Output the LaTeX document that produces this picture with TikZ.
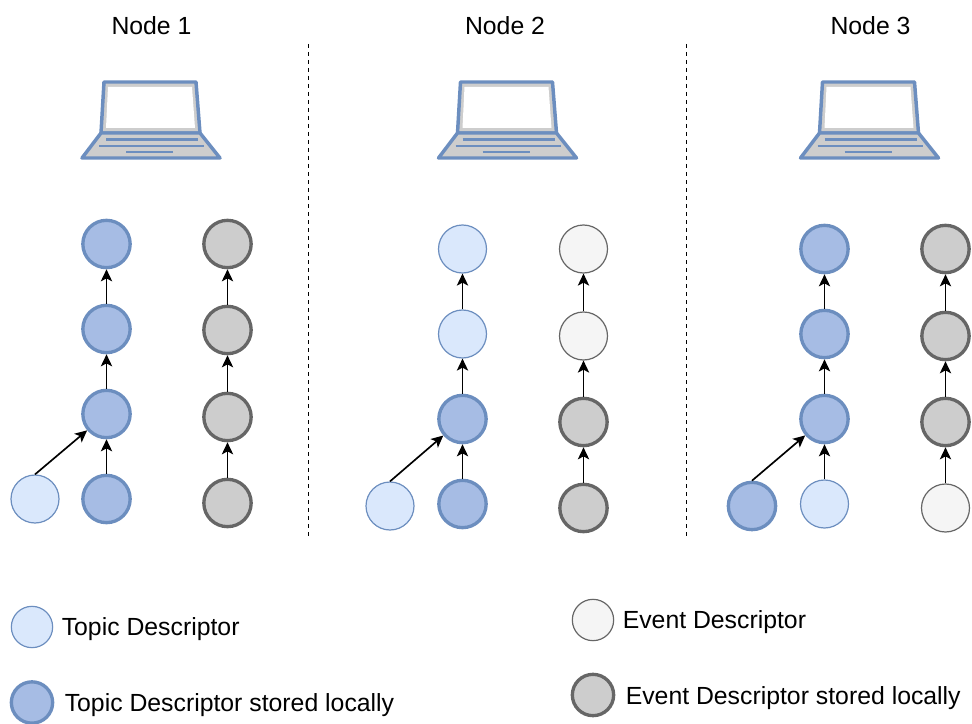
\documentclass[tikz,border=0pt]{standalone}
\usepackage{fontspec}
\setmainfont{Liberation Sans}
\usepackage{xcolor}
\definecolor{topicfill}{HTML}{DAE8FC}
\definecolor{localfill}{HTML}{A6BCE4}
\definecolor{topicline}{HTML}{6C8EBF}
\definecolor{eventfill}{HTML}{F5F5F5}
\definecolor{storefill}{HTML}{CDCDCD}
\definecolor{eventline}{HTML}{666666}
\tikzset{
	desc/.style={circle, draw, inner sep=0pt},
	topic/.style={desc, fill=topicfill, draw=topicline, line width=0.9pt, minimum size=36pt},
	topiclocal/.style={desc, fill=localfill, draw=topicline, line width=2.5pt, minimum size=35.5pt},
	event/.style={desc, fill=eventfill, draw=eventline, line width=0.9pt, minimum size=36pt},
	eventlocal/.style={desc, fill=storefill, draw=eventline, line width=2.5pt, minimum size=35.5pt},
	legendsize/.style={minimum size=31pt},
	title/.style={font=\fontsize{18.6}{22}\selectfont},
	legend/.style={font=\fontsize{18.6}{22}\selectfont, anchor=west, inner sep=0pt},
	link/.style={-{Stealth[length=9pt,width=8.5pt,inset=2.2pt]}, line width=1.25pt, black},
}
\usetikzlibrary{arrows.meta}
\begin{document}
\begin{tikzpicture}[x=0.75pt, y=-0.75pt]
	\useasboundingbox (0,0) rectangle (972,724);
	% titles
	\node[title] (title1) at (151.5,25.5) {Node 1};
	\node[title] (title2) at (505,25.5) {Node 2};
	\node[title] (title3) at (870.5,25.5) {Node 3};
	% separators
	\draw[black, dashed, line width=1.1pt] (308.3,44) -- (308.3,537);
	\draw[black, dashed, line width=1.1pt] (686.3,44) -- (686.3,537);
	% laptops
	\foreach \cx in {151,507.5,869.5} {
		\begin{scope}[xshift=\cx*0.75pt]
			\draw[topicline, line width=2.6pt, fill=storefill, line join=round] (-47,82) -- (45,82) -- (49,133) -- (-50,133) -- cycle;
			\fill[white] (-43,87) -- (41,87) -- (44,128) -- (-45,128) -- cycle;
			\draw[topicline, line width=2.6pt, fill=storefill, line join=round] (-50,133) -- (49,133) -- (69,158) -- (-69,158) -- cycle;
			\draw[topicline, line width=2.1pt] (-45,139.5) -- (47,139.5);
			\draw[topicline, line width=2.1pt] (-52,146) -- (53,146);
			\draw[topicline, line width=2.1pt] (-25,152) -- (22,152);
		\end{scope}
	}
	% node 1
	\node[topiclocal] (a1) at (106.5,244) {};
	\node[topiclocal] (a2) at (106.5,329) {};
	\node[topiclocal] (a3) at (106.5,414) {};
	\node[topiclocal] (a4) at (106.5,499) {};
	\node[topic] (a5) at (35,499) {};
	\node[eventlocal] (b1) at (227.5,244) {};
	\node[eventlocal] (b2) at (227.5,330) {};
	\node[eventlocal] (b3) at (227.5,417) {};
	\node[eventlocal] (b4) at (227.5,503) {};
	% node 2
	\node[topic] (c1) at (462.5,249) {};
	\node[topic] (c2) at (462.5,334) {};
	\node[topiclocal] (c3) at (462.5,419) {};
	\node[topiclocal] (c4) at (462.5,504) {};
	\node[topic] (c5) at (390,506) {};
	\node[event] (d1) at (583.5,249) {};
	\node[event] (d2) at (583.5,336) {};
	\node[eventlocal] (d3) at (583.5,422) {};
	\node[eventlocal] (d4) at (583.5,508) {};
	% node 3
	\node[topiclocal] (e1) at (824.5,249) {};
	\node[topiclocal] (e2) at (824.5,334) {};
	\node[topiclocal] (e3) at (824.5,419) {};
	\node[topic] (e4) at (824.5,504) {};
	\node[topiclocal] (e5) at (752,506) {};
	\node[eventlocal] (f1) at (945.5,249) {};
	\node[eventlocal] (f2) at (945.5,336) {};
	\node[eventlocal] (f3) at (945.5,422) {};
	\node[event] (f4) at (945.5,508) {};
	% chains
	\foreach \col in {a,b,c,d,e,f} {
		\draw[link] (\col2) -- (\col1);
		\draw[link] (\col3) -- (\col2);
		\draw[link] (\col4) -- (\col3);
	}
	\draw[link] (a5.north) -- (a3);
	\draw[link] (c5.north) -- (c3);
	\draw[link] (e5.north) -- (e3);
	% legend
	\node[topic, legendsize] (l1) at (32,627) {};
	\node[topiclocal, legendsize] (l2) at (32,702.5) {};
	\node[event, legendsize] (l3) at (593,620) {};
	\node[eventlocal, legendsize] (l4) at (593,695) {};
	\node[legend] (t1) at (61.5,628.8) {Topic Descriptor};
	\node[legend] (t2) at (64.5,704.8) {Topic Descriptor stored locally};
	\node[legend] (t3) at (622.5,621.8) {Event Descriptor};
	\node[legend] (t4) at (625.5,697.8) {Event Descriptor stored locally};
\end{tikzpicture}
\end{document}
